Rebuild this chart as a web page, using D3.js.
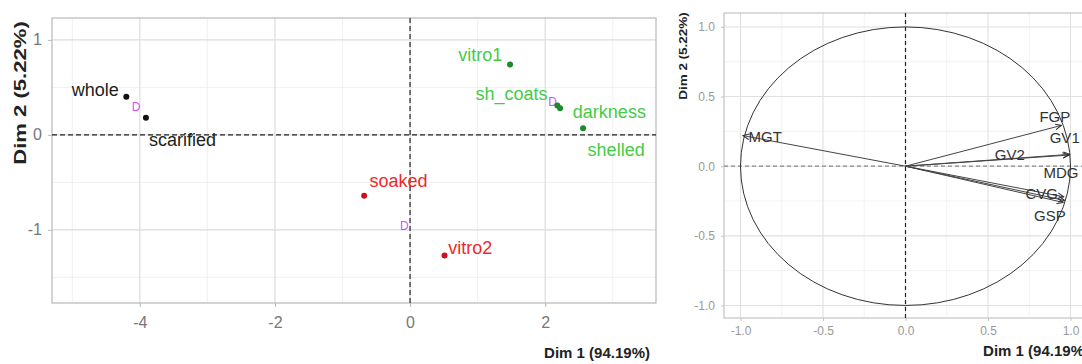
<!DOCTYPE html>
<html><head><meta charset="utf-8">
<script src="https://cdn.jsdelivr.net/npm/d3@7"></script>
<style>
html,body{margin:0;padding:0;background:#fff;}
svg{display:block;font-family:"Liberation Sans",Arial,sans-serif;}
</style></head>
<body><svg id="c" width="1082" height="364"></svg>
<script>
// ---------- Individuals plot data ----------
const indNames  = ["whole","scarified","vitro1","sh_coats","darkness","shelled","soaked","vitro2"];
const indGroup  = ["A","A","B","B","B","B","C","C"];
const indDim1   = [-4.20,-3.91, 1.48, 2.18, 2.22, 2.56,-0.68, 0.51];
const indDim2   = [ 0.40, 0.18, 0.74, 0.31, 0.28, 0.07,-0.64,-1.27];
const indLabX   = [-4.66,-3.37, 1.04, 1.50, 2.95, 3.05,-0.17, 0.89];
const indLabY   = [ 0.47,-0.05, 0.84, 0.43, 0.24,-0.16,-0.49,-1.19];
const groups    = ["A","B","C"];
const leftXTicks = [-4,-2,0,2];
const leftXMinor = [-5,-3,-1,1,3];
const leftYTicks = [-1,0,1];
const leftYMinor = [-1.5,-0.5,0.5];

// ---------- Variables plot data ----------
const varNames = ["MGT","FGP","GV1","GV2","MDG","CVG","GSP"];
const varDim1  = [-0.985,0.945,0.996,0.99,0.96,0.965,0.955];
const varDim2  = [ 0.22, 0.293,0.085,0.08,-0.22,-0.246,-0.26];
const varLabX  = [-0.85, 0.905,0.965,0.632,0.942,0.826,0.875];
const varLabY  = [ 0.214,0.358,0.207,0.085,-0.045,-0.196,-0.354];
const rightTicks = [-1.0,-0.5,0.0,0.5,1.0];
const rightMinor = [-0.75,-0.25,0.25,0.75];

const xTitle = "Dim 1 (94.19%)";
const yTitle = "Dim 2 (5.22%)";

const svg = d3.select("#c");
const hy = s => String(s).replace("\u2212","-");

// ================= LEFT PANEL =================
const L = {x0:52, x1:656, y0:18, y1:303};
const lx = d3.scaleLinear().domain([-5.3,3.64]).range([L.x0,L.x1]);
const ly = d3.scaleLinear().domain([-1.77,1.23]).range([L.y1,L.y0]);
const gl = svg.append("g");

gl.selectAll(".vmin").data(leftXMinor).join("line")
  .attr("x1",d=>lx(d)).attr("x2",d=>lx(d)).attr("y1",L.y0).attr("y2",L.y1)
  .attr("stroke","#ececec").attr("stroke-width",0.8);
gl.selectAll(".hmin").data(leftYMinor).join("line")
  .attr("y1",d=>ly(d)).attr("y2",d=>ly(d)).attr("x1",L.x0).attr("x2",L.x1)
  .attr("stroke","#ececec").attr("stroke-width",0.8);
gl.selectAll(".vmaj").data(leftXTicks).join("line")
  .attr("x1",d=>lx(d)).attr("x2",d=>lx(d)).attr("y1",L.y0).attr("y2",L.y1)
  .attr("stroke","#dcdcdc").attr("stroke-width",1.2);
gl.selectAll(".hmaj").data(leftYTicks).join("line")
  .attr("y1",d=>ly(d)).attr("y2",d=>ly(d)).attr("x1",L.x0).attr("x2",L.x1)
  .attr("stroke","#dcdcdc").attr("stroke-width",1.2);
gl.append("rect").attr("x",L.x0).attr("y",L.y0).attr("width",L.x1-L.x0).attr("height",L.y1-L.y0)
  .attr("fill","none").attr("stroke","#b8b8b8").attr("stroke-width",1.2);

// axes
const lxAxis = d3.axisBottom(lx).tickValues(leftXTicks).tickSize(4).tickPadding(10).tickFormat(d=>hy(d3.format("d")(d)));
const gxa = gl.append("g").attr("transform",`translate(0,${L.y1})`).call(lxAxis);
gxa.select(".domain").remove();
gxa.selectAll("line").attr("stroke","#b8b8b8");
gxa.selectAll("text").attr("fill","#777").attr("font-size",16).attr("font-family","Liberation Sans, Arial");
const lyAxis = d3.axisLeft(ly).tickValues(leftYTicks).tickSize(4).tickPadding(6).tickFormat(d=>hy(d3.format("d")(d)));
const gya = gl.append("g").attr("transform",`translate(${L.x0},0)`).call(lyAxis);
gya.select(".domain").remove();
gya.selectAll("line").attr("stroke","#b8b8b8");
gya.selectAll("text").attr("fill","#777").attr("font-size",16).attr("font-family","Liberation Sans, Arial");

// zero lines
gl.append("line").attr("x1",L.x0).attr("x2",L.x1).attr("y1",ly(0)).attr("y2",ly(0))
  .attr("stroke","#222").attr("stroke-width",1.3).attr("stroke-dasharray","5,3");
gl.append("line").attr("x1",lx(0)).attr("x2",lx(0)).attr("y1",L.y0).attr("y2",L.y1)
  .attr("stroke","#333").attr("stroke-width",1.3).attr("stroke-dasharray","5,3");

const dotCol = {A:"#111111",B:"#1b8a2c",C:"#cc1020"};
const labCol = {A:"#222222",B:"#44cc44",C:"#ee2a2a"};
const ind = indNames.map((n,i)=>({n,g:indGroup[i],x:indDim1[i],y:indDim2[i],lx:indLabX[i],ly:indLabY[i]}));

// centroids
const cents = groups.map(g=>{
  const pts = ind.filter(d=>d.g===g);
  return {g, x:d3.mean(pts,d=>d.x), y:d3.mean(pts,d=>d.y)};
});
gl.selectAll(".cent").data(cents).join("text")
  .attr("x",d=>lx(d.x)).attr("y",d=>ly(d.y))
  .attr("text-anchor","middle").attr("dominant-baseline","central")
  .attr("font-size",12).attr("fill","#cc55ee").text("D");

gl.selectAll(".dot").data(ind).join("circle")
  .attr("cx",d=>lx(d.x)).attr("cy",d=>ly(d.y)).attr("r",3)
  .attr("fill",d=>dotCol[d.g]);
gl.selectAll(".lab").data(ind).join("text")
  .attr("x",d=>lx(d.lx)).attr("y",d=>ly(d.ly))
  .attr("text-anchor","middle").attr("dominant-baseline","central")
  .attr("font-size",18).attr("fill",d=>labCol[d.g]).text(d=>d.n);

// titles
gl.append("text").attr("transform",`translate(${L.x1-6},358)`).attr("text-anchor","end")
  .attr("font-weight","bold").attr("font-size",15).attr("fill","#222").text(xTitle);
gl.append("text").attr("transform",`translate(26,93) rotate(-90) scale(1.3,1)`).attr("text-anchor","middle")
  .attr("font-weight","bold").attr("font-size",17).attr("fill","#222").text(yTitle);

// ================= RIGHT PANEL =================
const R = {x0:724, x1:1087, y0:13, y1:318};
const rx = d3.scaleLinear().domain([-1.1,1.1]).range([R.x0,R.x1]);
const ry = d3.scaleLinear().domain([-1.09,1.10]).range([R.y1,R.y0]);
const gr = svg.append("g");

gr.selectAll(".vmin").data(rightMinor).join("line")
  .attr("x1",d=>rx(d)).attr("x2",d=>rx(d)).attr("y1",R.y0).attr("y2",R.y1)
  .attr("stroke","#efefef").attr("stroke-width",0.8);
gr.selectAll(".hmin").data(rightMinor).join("line")
  .attr("y1",d=>ry(d)).attr("y2",d=>ry(d)).attr("x1",R.x0).attr("x2",R.x1)
  .attr("stroke","#efefef").attr("stroke-width",0.8);
gr.selectAll(".vmaj").data(rightTicks).join("line")
  .attr("x1",d=>rx(d)).attr("x2",d=>rx(d)).attr("y1",R.y0).attr("y2",R.y1)
  .attr("stroke","#e0e0e0").attr("stroke-width",1.1);
gr.selectAll(".hmaj").data(rightTicks).join("line")
  .attr("y1",d=>ry(d)).attr("y2",d=>ry(d)).attr("x1",R.x0).attr("x2",R.x1)
  .attr("stroke","#e0e0e0").attr("stroke-width",1.1);
gr.append("rect").attr("x",R.x0).attr("y",R.y0).attr("width",R.x1-R.x0).attr("height",R.y1-R.y0)
  .attr("fill","none").attr("stroke","#c4c4c4").attr("stroke-width",1.2);

const fmt = d => hy(d3.format(".1f")(d));
const rxAxis = d3.axisBottom(rx).tickValues(rightTicks).tickSize(3).tickPadding(5).tickFormat(fmt);
const grx = gr.append("g").attr("transform",`translate(0,${R.y1})`).call(rxAxis);
grx.select(".domain").remove();
grx.selectAll("line").attr("stroke","#c4c4c4");
grx.selectAll("text").attr("fill","#999").attr("font-size",12).attr("font-family","Liberation Sans, Arial");
const ryAxis = d3.axisLeft(ry).tickValues(rightTicks).tickSize(3).tickPadding(6).tickFormat(fmt);
const gry = gr.append("g").attr("transform",`translate(${R.x0},0)`).call(ryAxis);
gry.select(".domain").remove();
gry.selectAll("line").attr("stroke","#c4c4c4");
gry.selectAll("text").attr("fill","#999").attr("font-size",12).attr("font-family","Liberation Sans, Arial");

gr.append("line").attr("x1",R.x0).attr("x2",R.x1).attr("y1",ry(0)).attr("y2",ry(0))
  .attr("stroke","#888").attr("stroke-width",1.2).attr("stroke-dasharray","4,3");
gr.append("line").attr("x1",rx(0)).attr("x2",rx(0)).attr("y1",R.y0).attr("y2",R.y1)
  .attr("stroke","#222").attr("stroke-width",1.2).attr("stroke-dasharray","4,3");

// unit circle
gr.append("ellipse").attr("cx",rx(0)).attr("cy",ry(0))
  .attr("rx",rx(1)-rx(0)).attr("ry",ry(0)-ry(1))
  .attr("fill","none").attr("stroke","#333").attr("stroke-width",1);

// arrows
svg.append("defs").append("marker").attr("id","arr")
  .attr("viewBox","0 0 10 10").attr("refX",9).attr("refY",5)
  .attr("markerWidth",7).attr("markerHeight",7).attr("markerUnits","userSpaceOnUse")
  .attr("orient","auto")
  .append("path").attr("d","M0,1 L9,5 L0,9").attr("fill","none").attr("stroke","#333").attr("stroke-width",1.5);
const vars = varNames.map((n,i)=>({n,x:varDim1[i],y:varDim2[i],lx:varLabX[i],ly:varLabY[i]}));
gr.selectAll(".arrow").data(vars).join("line")
  .attr("x1",rx(0)).attr("y1",ry(0)).attr("x2",d=>rx(d.x)).attr("y2",d=>ry(d.y))
  .attr("stroke","#444").attr("stroke-width",1).attr("marker-end","url(#arr)");
gr.selectAll(".vlab").data(vars).join("text")
  .attr("x",d=>rx(d.lx)).attr("y",d=>ry(d.ly))
  .attr("text-anchor","middle").attr("dominant-baseline","central")
  .attr("font-size",15).attr("fill","#333").text(d=>d.n);

gr.append("text").attr("transform",`translate(1089,356)`).attr("text-anchor","end")
  .attr("font-weight","bold").attr("font-size",15).attr("fill","#222").text(xTitle);
gr.append("text").attr("transform",`translate(687,56) rotate(-90) scale(1.35,1)`).attr("text-anchor","middle")
  .attr("font-weight","bold").attr("font-size",10).attr("fill","#222").text(yTitle);
</script></body></html>
